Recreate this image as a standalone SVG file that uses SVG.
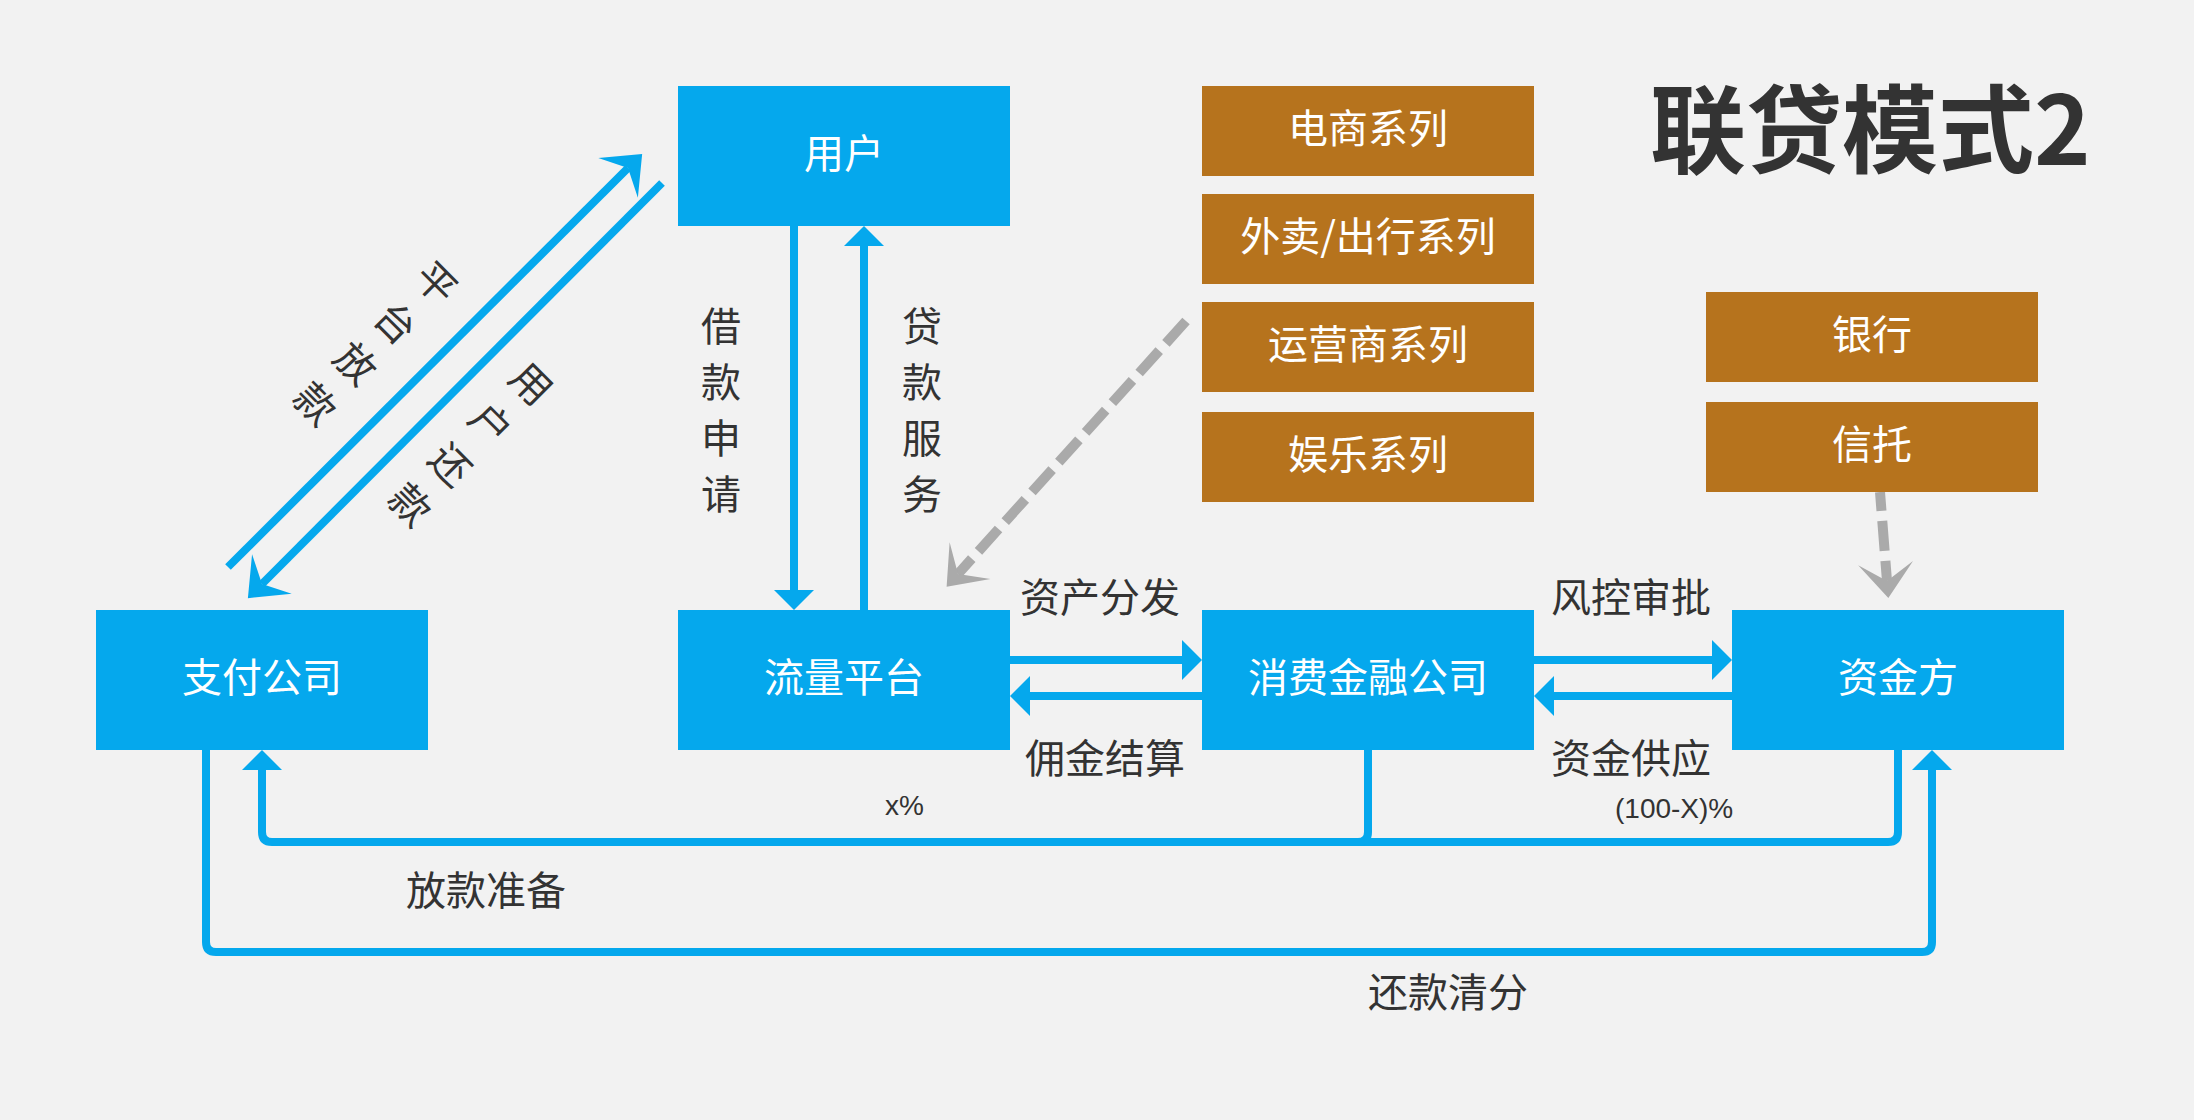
<svg xmlns="http://www.w3.org/2000/svg" width="2194" height="1120" viewBox="0 0 2194 1120">
<style>
  .bg { fill: #f2f2f2; }
  .blue { fill: #05a8ed; }
  .brown { fill: #b6731d; }
  .nt { font-family: "Noto Sans CJK SC", "Noto Sans", sans-serif; font-size: 40px; fill: #ffffff; text-anchor: middle; }
  .lb { font-family: "Noto Sans CJK SC", "Noto Sans", sans-serif; font-size: 40px; fill: #333333; text-anchor: middle; }
  .sm { font-family: "Liberation Sans", "Noto Sans", sans-serif; font-size: 28px; fill: #333333; }
  .title { font-family: "Noto Sans CJK SC", "Noto Sans", sans-serif; font-size: 96px; font-weight: 700; fill: #333333; }
  .cb { fill: none; stroke: #05a8ed; stroke-width: 8; stroke-linejoin: round; }
  .cg { fill: none; stroke: #aaaaaa; stroke-width: 10; stroke-dasharray: 30 10; }
</style>
<defs>
  <marker id="ab" viewBox="-1 -21 22 42" refX="0" refY="0" markerWidth="22" markerHeight="42" markerUnits="userSpaceOnUse" orient="auto">
    <path d="M0,-20 L20,0 L0,20 Z" fill="#05a8ed"/>
  </marker>
  <marker id="ad" viewBox="-16 -30 38 60" refX="0" refY="0" markerWidth="38" markerHeight="60" markerUnits="userSpaceOnUse" orient="auto">
    <path d="M0,0 L-14,-28 L20,0 L-14,28 Z" fill="#05a8ed"/>
  </marker>
  <marker id="ag" viewBox="-20 -30 40 60" refX="0" refY="0" markerWidth="40" markerHeight="60" markerUnits="userSpaceOnUse" orient="auto">
    <path d="M0,0 L-18,-27.5 L17,0 L-18,27.5 Z" fill="#aaaaaa"/>
  </marker>
</defs>
<rect class="bg" x="0" y="0" width="2194" height="1120"/>

<text class="title" x="1650" y="165">联贷模式2</text>

<g id="connectors">
  <path class="cb" d="M794,226 V590" marker-end="url(#ab)"/>
  <path class="cb" d="M864,610 V246" marker-end="url(#ab)"/>
  <path class="cb" d="M1010,660 H1182" marker-end="url(#ab)"/>
  <path class="cb" d="M1202,696 H1030" marker-end="url(#ab)"/>
  <path class="cb" d="M1534,660 H1712" marker-end="url(#ab)"/>
  <path class="cb" d="M1732,696 H1554" marker-end="url(#ab)"/>
  <path class="cb" d="M1898,750 V832 Q1898,842 1888,842 H272 Q262,842 262,832 V770" marker-end="url(#ab)"/>
  <path class="cb" d="M1368,750 V832 Q1368,842 1358,842"/>
  <path class="cb" d="M206,750 V942 Q206,952 216,952 H1922 Q1932,952 1932,942 V770" marker-end="url(#ab)"/>
  <path class="cb" d="M228,567 L628,168" marker-end="url(#ad)"/>
  <path class="cb" d="M662,183 L262,584" marker-end="url(#ad)"/>
  <path class="cg" d="M1186,321 L958,574" marker-end="url(#ag)"/>
  <path class="cg" d="M1880,492 L1887,581" stroke-dashoffset="11" marker-end="url(#ag)"/>
</g>

<g id="labels">
  <g transform="translate(721,0)">
    <text class="lb" x="0" y="341">借</text>
    <text class="lb" x="0" y="397">款</text>
    <text class="lb" x="0" y="453">申</text>
    <text class="lb" x="0" y="509">请</text>
  </g>
  <g transform="translate(922,0)">
    <text class="lb" x="0" y="341">贷</text>
    <text class="lb" x="0" y="397">款</text>
    <text class="lb" x="0" y="453">服</text>
    <text class="lb" x="0" y="509">务</text>
  </g>
  <g transform="translate(435,284) rotate(45)">
    <text class="lb" x="0" y="13">平</text>
    <text class="lb" x="0" y="70">台</text>
    <text class="lb" x="0" y="127">放</text>
    <text class="lb" x="0" y="184">款</text>
  </g>
  <g transform="translate(530,385) rotate(45)">
    <text class="lb" x="0" y="13">用</text>
    <text class="lb" x="0" y="70">户</text>
    <text class="lb" x="0" y="127">还</text>
    <text class="lb" x="0" y="184">款</text>
  </g>
  <text class="lb" x="1100" y="612">资产分发</text>
  <text class="lb" x="1105" y="773">佣金结算</text>
  <text class="lb" x="1631" y="612">风控审批</text>
  <text class="lb" x="1631" y="773">资金供应</text>
  <text class="lb" x="486" y="905">放款准备</text>
  <text class="lb" x="1448" y="1007">还款清分</text>
  <text class="sm" x="885" y="815">x%</text>
  <text class="sm" x="1615" y="818">(100-X)%</text>
</g>

<g id="node-user"><rect class="blue" x="678" y="86" width="332" height="140"/><text class="nt" x="844" y="168">用户</text></g>
<g id="node-traffic"><rect class="blue" x="678" y="610" width="332" height="140"/><text class="nt" x="844" y="692">流量平台</text></g>
<g id="node-pay"><rect class="blue" x="96" y="610" width="332" height="140"/><text class="nt" x="262" y="692">支付公司</text></g>
<g id="node-consumer"><rect class="blue" x="1202" y="610" width="332" height="140"/><text class="nt" x="1368" y="692">消费金融公司</text></g>
<g id="node-funder"><rect class="blue" x="1732" y="610" width="332" height="140"/><text class="nt" x="1898" y="692">资金方</text></g>

<g id="node-ecom"><rect class="brown" x="1202" y="86" width="332" height="90"/><text class="nt" x="1368" y="143">电商系列</text></g>
<g id="node-delivery"><rect class="brown" x="1202" y="194" width="332" height="90"/><text class="nt" x="1368" y="251">外卖/出行系列</text></g>
<g id="node-telecom"><rect class="brown" x="1202" y="302" width="332" height="90"/><text class="nt" x="1368" y="359">运营商系列</text></g>
<g id="node-ent"><rect class="brown" x="1202" y="412" width="332" height="90"/><text class="nt" x="1368" y="469">娱乐系列</text></g>
<g id="node-bank"><rect class="brown" x="1706" y="292" width="332" height="90"/><text class="nt" x="1872" y="349">银行</text></g>
<g id="node-trust"><rect class="brown" x="1706" y="402" width="332" height="90"/><text class="nt" x="1872" y="459">信托</text></g>
</svg>
